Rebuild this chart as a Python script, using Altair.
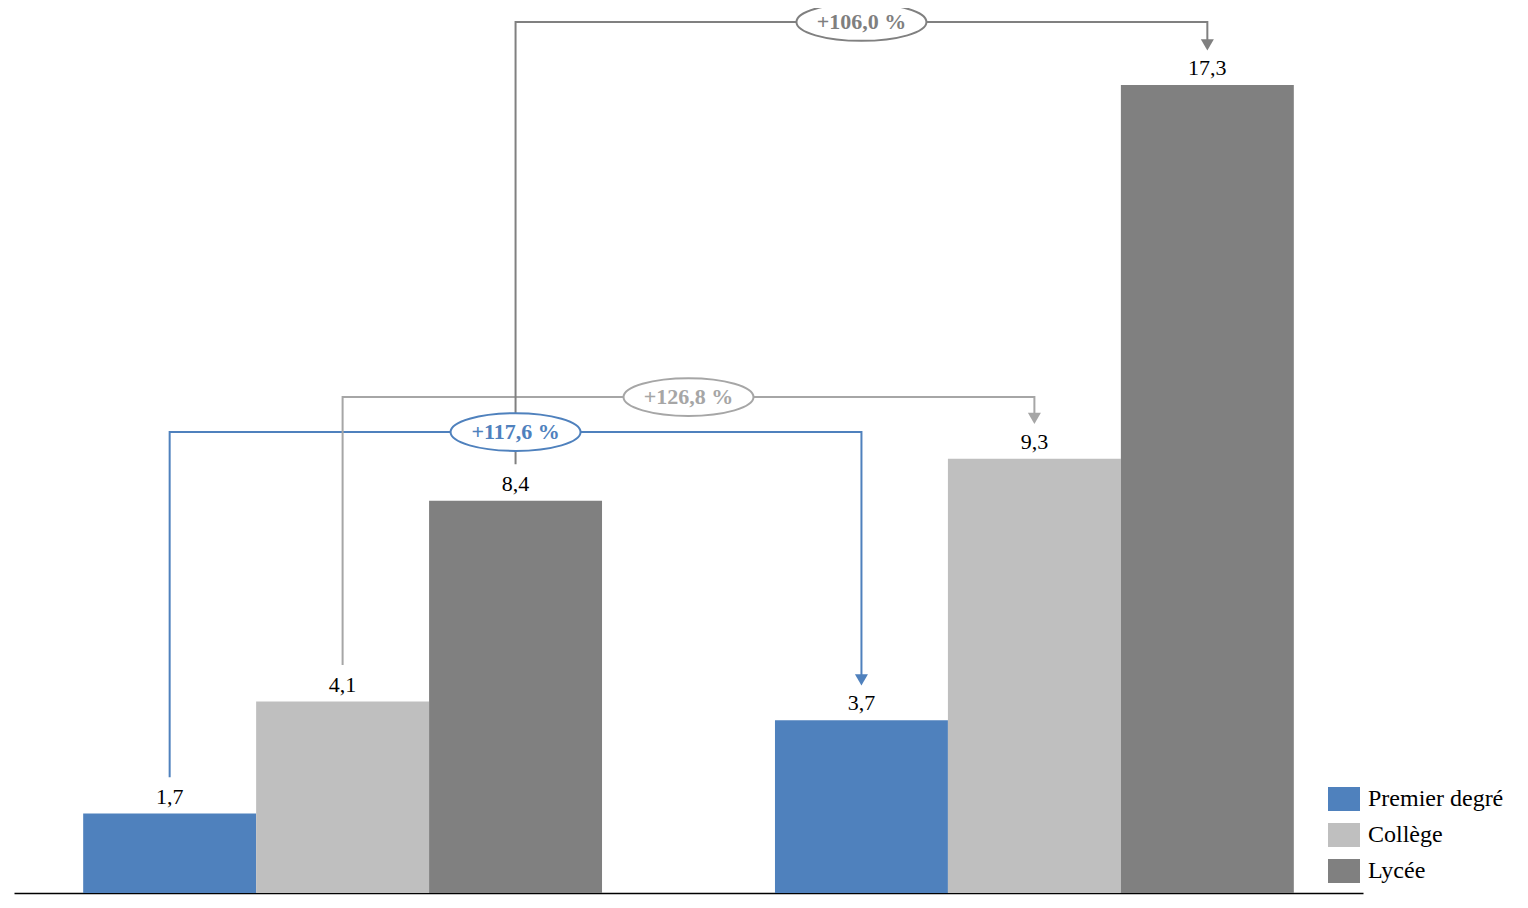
import altair as alt
import pandas as pd

# ---- data ----
groups = ["Groupe 1", "Groupe 2"]
series = ["Premier degré", "Collège", "Lycée"]
values_g1 = [1.7, 4.1, 8.4]
values_g2 = [3.7, 9.3, 17.3]
colors = ["#4F81BD", "#BFBFBF", "#808080"]
line_colors = ["#4F81BD", "#A6A6A6", "#808080"]
label_text_colors = ["#4F81BD", "#A6A6A6", "#7F7F7F"]

# ---- layout (data units) ----
conn_levels = [9.87, 10.62, 18.65]   # horizontal connector heights
label_x = [2.5, 3.5, 4.5]            # ellipse centre positions
gap = 0.78                            # distance between bar top and connector ends
arrow_h = 0.15

FONT = "Liberation Serif"

rows = []
for gi, (g, vals) in enumerate(zip(groups, [values_g1, values_g2])):
    for si, (s, v) in enumerate(zip(series, vals)):
        x0 = gi * 4 + si
        rows.append({"group": g, "series": s, "value": v, "x0": x0, "x1": x0 + 1,
                     "xc": x0 + 0.5, "label": f"{v:.1f}".replace(".", ",")})
bars = pd.DataFrame(rows)

seg_rows, arrow_rows, lab_rows = [], [], []
for si, s in enumerate(series):
    v1, v2 = values_g1[si], values_g2[si]
    xa, xb = si + 0.5, 4 + si + 0.5
    lvl = conn_levels[si]
    tip = v2 + gap
    pts = [(xa, v1 + gap), (xa, lvl), (xb, lvl), (xb, tip + arrow_h)]
    for k, (px, py) in enumerate(pts):
        seg_rows.append({"series": s, "k": k, "x": px, "y": py})
    arrow_rows.append({"series": s, "x": xb, "y": tip + arrow_h * 0.55})
    pct = (v2 / v1 - 1) * 100
    lab_rows.append({"series": s, "x": label_x[si], "y": lvl,
                     "text": "+" + f"{pct:.1f}".replace(".", ",") + " %"})
segs = pd.DataFrame(seg_rows)
arrows = pd.DataFrame(arrow_rows)
labs = pd.DataFrame(lab_rows)

xscale = alt.Scale(domain=[-0.4, 7.4], nice=False, zero=False)
yscale = alt.Scale(domain=[0, 18.95], nice=False)
col = alt.Color("series:N", scale=alt.Scale(domain=series, range=colors),
                sort=series,
                legend=alt.Legend(title=None, orient="none", legendX=1314, legendY=775,
                                  symbolType="M-1,-0.75H1V0.75H-1Z", symbolSize=1024,
                                  symbolStrokeWidth=0, symbolOpacity=1,
                                  labelFont=FONT, labelFontSize=24, labelColor="#000",
                                  labelOffset=8, rowPadding=8, padding=0))
lcol = alt.Color("series:N", scale=alt.Scale(domain=series, range=line_colors), legend=None)
tcol = alt.Color("series:N", scale=alt.Scale(domain=series, range=label_text_colors), legend=None)

bar_layer = alt.Chart(bars).mark_rect().encode(
    x=alt.X("x0:Q", scale=xscale,
            axis=alt.Axis(domain=True, domainColor="#000", domainWidth=1.5, ticks=False,
                          labels=False, grid=False, title=None)),
    x2="x1:Q",
    y=alt.Y("value:Q", scale=yscale, axis=None),
    y2=alt.datum(0),
    color=col,
)
val_layer = alt.Chart(bars).mark_text(font=FONT, fontSize=22, baseline="alphabetic",
                                      dy=-10, color="#000").encode(
    x=alt.X("xc:Q", scale=xscale), y=alt.Y("value:Q", scale=yscale), text="label:N")

line_layer = alt.Chart(segs).mark_line(strokeWidth=2, interpolate="linear").encode(
    x=alt.X("x:Q", scale=xscale), y=alt.Y("y:Q", scale=yscale),
    color=lcol, detail="series:N", order="k:Q")

arrow_layer = alt.Chart(arrows).mark_point(shape="triangle-down", filled=True, size=170,
                                           opacity=1).encode(
    x=alt.X("x:Q", scale=xscale), y=alt.Y("y:Q", scale=yscale), color=lcol)

ell_path = "M-1,0A1,0.29 0 1,0 1,0A1,0.29 0 1,0 -1,0Z"
ell_layer = alt.Chart(labs).mark_point(shape=ell_path, size=130 * 130, filled=False,
                                       fill="white", fillOpacity=1, strokeWidth=2,
                                       opacity=1).encode(
    x=alt.X("x:Q", scale=xscale), y=alt.Y("y:Q", scale=yscale),
    stroke=alt.Stroke("series:N", scale=alt.Scale(domain=series, range=line_colors), legend=None))

txt_layer = alt.Chart(labs).mark_text(font=FONT, fontSize=22, fontWeight="bold",
                                      baseline="middle", align="center").encode(
    x=alt.X("x:Q", scale=xscale), y=alt.Y("y:Q", scale=yscale), text="text:N",
    color=tcol)

chart = alt.layer(bar_layer, val_layer, line_layer, arrow_layer, ell_layer, txt_layer).resolve_scale(
    color="independent").properties(
    width=1349, height=885,
    background="white",
    autosize=alt.AutoSizeParams(type="none"),
    padding={"left": 6, "top": 0, "right": 157, "bottom": 7},
).configure_view(stroke=None)

chart.save("out.html", embed_options={"renderer": "svg", "actions": False})
